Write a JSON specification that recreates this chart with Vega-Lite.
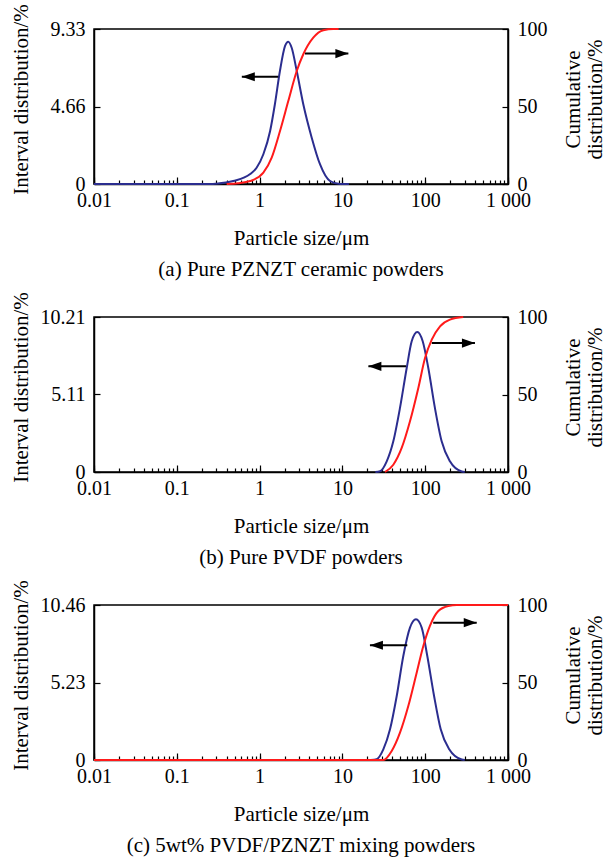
{
  "$schema": "https://vega.github.io/schema/vega-lite/v6.json",
  "padding": {"left": 9, "top": 2, "right": 4, "bottom": 2},
  "datasets": {
    "a": [
      {"s": "I", "x": 0.01, "y": 0}, {"s": "I", "x": 0.1, "y": 0}, {"s": "I", "x": 0.26, "y": 0},
      {"s": "I", "x": 0.3, "y": 0.02}, {"s": "I", "x": 0.48, "y": 0.18}, {"s": "I", "x": 0.77, "y": 0.6},
      {"s": "I", "x": 0.92, "y": 0.98}, {"s": "I", "x": 1.11, "y": 1.79}, {"s": "I", "x": 1.34, "y": 3.19},
      {"s": "I", "x": 1.53, "y": 4.8}, {"s": "I", "x": 1.76, "y": 6.8}, {"s": "I", "x": 2.03, "y": 8.31},
      {"s": "I", "x": 2.22, "y": 8.57}, {"s": "I", "x": 2.44, "y": 8.2}, {"s": "I", "x": 2.81, "y": 6.8},
      {"s": "I", "x": 3.37, "y": 4.8}, {"s": "I", "x": 4.26, "y": 2.79}, {"s": "I", "x": 5.36, "y": 1.19},
      {"s": "I", "x": 7.08, "y": 0.18}, {"s": "I", "x": 9.35, "y": 0}, {"s": "I", "x": 12, "y": 0},
      {"s": "C", "x": 0.4, "y": 0}, {"s": "C", "x": 0.55, "y": 0.5}, {"s": "C", "x": 0.77, "y": 1.9},
      {"s": "C", "x": 1.11, "y": 7.3}, {"s": "C", "x": 1.4, "y": 17}, {"s": "C", "x": 1.76, "y": 34},
      {"s": "C", "x": 2.22, "y": 53.5}, {"s": "C", "x": 2.81, "y": 72.9}, {"s": "C", "x": 3.37, "y": 83.7},
      {"s": "C", "x": 4.45, "y": 94.4}, {"s": "C", "x": 5.88, "y": 99.2}, {"s": "C", "x": 7.76, "y": 100},
      {"s": "C", "x": 9, "y": 100}
    ],
    "aArr": [
      {"d": "L", "t": 1.68, "h": 0.61, "y": 6.46},
      {"d": "R", "t": 3.53, "h": 11.8, "y": 7.85}
    ],
    "b": [
      {"s": "I", "x": 25, "y": 0}, {"s": "I", "x": 28.5, "y": 0.05}, {"s": "I", "x": 34.3, "y": 0.7},
      {"s": "I", "x": 41.2, "y": 2.02}, {"s": "I", "x": 49.6, "y": 4.22}, {"s": "I", "x": 59.8, "y": 6.85},
      {"s": "I", "x": 68.7, "y": 8.61}, {"s": "I", "x": 80.3, "y": 9.22}, {"s": "I", "x": 93.3, "y": 8.61},
      {"s": "I", "x": 109, "y": 6.85}, {"s": "I", "x": 131, "y": 4.22}, {"s": "I", "x": 158, "y": 2.02},
      {"s": "I", "x": 199, "y": 0.7}, {"s": "I", "x": 276, "y": 0.03}, {"s": "I", "x": 300, "y": 0},
      {"s": "C", "x": 32.7, "y": 0}, {"s": "C", "x": 41.2, "y": 4.7}, {"s": "C", "x": 52, "y": 15.5},
      {"s": "C", "x": 65.5, "y": 32.7}, {"s": "C", "x": 82.6, "y": 54.2}, {"s": "C", "x": 99.5, "y": 73.5},
      {"s": "C", "x": 120, "y": 85.4}, {"s": "C", "x": 151, "y": 94}, {"s": "C", "x": 199, "y": 98.3},
      {"s": "C", "x": 288, "y": 100}
    ],
    "bArr": [
      {"d": "L", "t": 58.6, "h": 20.6, "y": 6.96},
      {"d": "R", "t": 120, "h": 399, "y": 8.49}
    ],
    "c": [
      {"s": "I", "x": 22, "y": 0}, {"s": "I", "x": 25.9, "y": 0.05}, {"s": "I", "x": 31.2, "y": 0.72},
      {"s": "I", "x": 37.6, "y": 2.07}, {"s": "I", "x": 45.3, "y": 4.32}, {"s": "I", "x": 54.4, "y": 7.02},
      {"s": "I", "x": 65.5, "y": 8.93}, {"s": "I", "x": 77.4, "y": 9.49}, {"s": "I", "x": 90.7, "y": 8.93},
      {"s": "I", "x": 106, "y": 7.02}, {"s": "I", "x": 128, "y": 4.32}, {"s": "I", "x": 154, "y": 2.07},
      {"s": "I", "x": 195, "y": 0.72}, {"s": "I", "x": 276, "y": 0.03}, {"s": "I", "x": 300, "y": 0},
      {"s": "C", "x": 0.01, "y": 0}, {"s": "C", "x": 31.2, "y": 0}, {"s": "C", "x": 39.4, "y": 5.8},
      {"s": "C", "x": 49.6, "y": 17.6}, {"s": "C", "x": 62.5, "y": 34.8}, {"s": "C", "x": 78.9, "y": 56.3},
      {"s": "C", "x": 94.9, "y": 73.5}, {"s": "C", "x": 114, "y": 86.5}, {"s": "C", "x": 144, "y": 96.1},
      {"s": "C", "x": 190, "y": 99.4}, {"s": "C", "x": 240, "y": 100}, {"s": "C", "x": 1000, "y": 100}
    ],
    "cArr": [
      {"d": "L", "t": 60.8, "h": 21.5, "y": 7.74},
      {"d": "R", "t": 125, "h": 419, "y": 9.27}
    ]
  },
  "vconcat": [
    {
      "width": 414, "height": 155,
      "title": {"text": "(a) Pure PZNZT ceramic powders", "orient": "bottom", "offset": 11},
      "resolve": {"scale": {"y": "independent"}, "axis": {"x": "independent"}},
      "layer": [
        {
          "data": {"name": "a"},
          "transform": [{"filter": "datum.s == 'I'"}],
          "mark": {"type": "line", "color": "#2b2d8f", "strokeWidth": 2, "interpolate": "monotone"},
          "encoding": {
            "x": {"field": "x", "type": "quantitative", "scale": {"type": "log", "domain": [0.01, 1000], "nice": false},
              "axis": {"orient": "bottom", "title": "Particle size/μm", "values": [0.01,0.02,0.03,0.04,0.05,0.06,0.07,0.08,0.09,0.1,0.2,0.3,0.4,0.5,0.6,0.7,0.8,0.9,1,2,3,4,5,6,7,8,9,10,20,30,40,50,60,70,80,90,100,200,300,400,500,600,700,800,900,1000],
                "labelExpr": "datum.value == 0.01 ? '0.01' : datum.value == 0.1 ? '0.1' : datum.value == 1 ? '1' : datum.value == 10 ? '10' : datum.value == 100 ? '100' : datum.value == 1000 ? '1 000' : ''",
                "tickSize": -4, "labelPadding": 10, "titlePadding": 17}},
            "y": {"field": "y", "type": "quantitative", "scale": {"domain": [0, 9.33], "nice": false, "zero": false},
              "axis": {"values": [0, 4.66, 9.33], "title": "Interval distribution/%", "tickSize": -6, "labelPadding": 15, "titlePadding": 19, "titleY": 70,
                "labelExpr": "datum.value == 0 ? '0' : format(datum.value, '.2f')"}}
          }
        },
        {
          "data": {"name": "aArr"},
          "mark": {"type": "rule", "color": "black", "strokeWidth": 2},
          "encoding": {
            "x": {"field": "t", "type": "quantitative", "scale": {"type": "log", "domain": [0.01, 1000], "nice": false},
              "axis": {"orient": "bottom", "values": [0.01, 0.1, 1, 10, 100, 1000], "labels": false, "domain": false, "title": null, "tickSize": -7}},
            "x2": {"field": "h"},
            "y": {"field": "y", "type": "quantitative", "scale": {"domain": [0, 9.33], "nice": false, "zero": false}, "axis": null}
          }
        },
        {
          "data": {"name": "aArr"},
          "mark": {"type": "point", "filled": true, "color": "black", "opacity": 1, "size": 676},
          "encoding": {
            "x": {"field": "h", "type": "quantitative", "scale": {"type": "log", "domain": [0.01, 1000], "nice": false}, "axis": null},
            "y": {"field": "y", "type": "quantitative", "scale": {"domain": [0, 9.33], "nice": false, "zero": false}, "axis": null},
            "shape": {"field": "d", "type": "nominal", "scale": {"domain": ["L", "R"], "range": ["M0,0L1,-0.35L1,0.35Z", "M0,0L-1,-0.35L-1,0.35Z"]}, "legend": null}
          }
        },
        {
          "data": {"name": "a"},
          "transform": [{"filter": "datum.s == 'C'"}],
          "mark": {"type": "line", "color": "#ff1a1a", "strokeWidth": 2, "interpolate": "monotone"},
          "encoding": {
            "x": {"field": "x", "type": "quantitative", "scale": {"type": "log", "domain": [0.01, 1000], "nice": false}, "axis": null},
            "y": {"field": "y", "type": "quantitative", "scale": {"domain": [0, 100], "nice": false},
              "axis": {"orient": "right", "values": [0, 50, 100], "title": ["Cumulative", "distribution/%"], "titleAngle": 270, "titleY": 70, "tickSize": -6, "labelPadding": 15, "titlePadding": 14, "titleLineHeight": 22}}
          }
        }
      ]
    },
    {
      "width": 414, "height": 155,
      "title": {"text": "(b) Pure PVDF powders", "orient": "bottom", "offset": 11},
      "resolve": {"scale": {"y": "independent"}, "axis": {"x": "independent"}},
      "layer": [
        {
          "data": {"name": "b"},
          "transform": [{"filter": "datum.s == 'I'"}],
          "mark": {"type": "line", "color": "#2b2d8f", "strokeWidth": 2, "interpolate": "monotone"},
          "encoding": {
            "x": {"field": "x", "type": "quantitative", "scale": {"type": "log", "domain": [0.01, 1000], "nice": false},
              "axis": {"orient": "bottom", "title": "Particle size/μm", "values": [0.01,0.02,0.03,0.04,0.05,0.06,0.07,0.08,0.09,0.1,0.2,0.3,0.4,0.5,0.6,0.7,0.8,0.9,1,2,3,4,5,6,7,8,9,10,20,30,40,50,60,70,80,90,100,200,300,400,500,600,700,800,900,1000],
                "labelExpr": "datum.value == 0.01 ? '0.01' : datum.value == 0.1 ? '0.1' : datum.value == 1 ? '1' : datum.value == 10 ? '10' : datum.value == 100 ? '100' : datum.value == 1000 ? '1 000' : ''",
                "tickSize": -4, "labelPadding": 10, "titlePadding": 17}},
            "y": {"field": "y", "type": "quantitative", "scale": {"domain": [0, 10.21], "nice": false, "zero": false},
              "axis": {"values": [0, 5.11, 10.21], "title": "Interval distribution/%", "tickSize": -6, "labelPadding": 15, "titlePadding": 9, "titleY": 70,
                "labelExpr": "datum.value == 0 ? '0' : format(datum.value, '.2f')"}}
          }
        },
        {
          "data": {"name": "bArr"},
          "mark": {"type": "rule", "color": "black", "strokeWidth": 2},
          "encoding": {
            "x": {"field": "t", "type": "quantitative", "scale": {"type": "log", "domain": [0.01, 1000], "nice": false},
              "axis": {"orient": "bottom", "values": [0.01, 0.1, 1, 10, 100, 1000], "labels": false, "domain": false, "title": null, "tickSize": -7}},
            "x2": {"field": "h"},
            "y": {"field": "y", "type": "quantitative", "scale": {"domain": [0, 10.21], "nice": false, "zero": false}, "axis": null}
          }
        },
        {
          "data": {"name": "bArr"},
          "mark": {"type": "point", "filled": true, "color": "black", "opacity": 1, "size": 676},
          "encoding": {
            "x": {"field": "h", "type": "quantitative", "scale": {"type": "log", "domain": [0.01, 1000], "nice": false}, "axis": null},
            "y": {"field": "y", "type": "quantitative", "scale": {"domain": [0, 10.21], "nice": false, "zero": false}, "axis": null},
            "shape": {"field": "d", "type": "nominal", "scale": {"domain": ["L", "R"], "range": ["M0,0L1,-0.35L1,0.35Z", "M0,0L-1,-0.35L-1,0.35Z"]}, "legend": null}
          }
        },
        {
          "data": {"name": "b"},
          "transform": [{"filter": "datum.s == 'C'"}],
          "mark": {"type": "line", "color": "#ff1a1a", "strokeWidth": 2, "interpolate": "monotone"},
          "encoding": {
            "x": {"field": "x", "type": "quantitative", "scale": {"type": "log", "domain": [0.01, 1000], "nice": false}, "axis": null},
            "y": {"field": "y", "type": "quantitative", "scale": {"domain": [0, 100], "nice": false},
              "axis": {"orient": "right", "values": [0, 50, 100], "title": ["Cumulative", "distribution/%"], "titleAngle": 270, "titleY": 70, "tickSize": -6, "labelPadding": 15, "titlePadding": 14, "titleLineHeight": 22}}
          }
        }
      ]
    },
    {
      "width": 414, "height": 155,
      "title": {"text": "(c) 5wt% PVDF/PZNZT mixing powders", "orient": "bottom", "offset": 11},
      "resolve": {"scale": {"y": "independent"}, "axis": {"x": "independent"}},
      "layer": [
        {
          "data": {"name": "c"},
          "transform": [{"filter": "datum.s == 'I'"}],
          "mark": {"type": "line", "color": "#2b2d8f", "strokeWidth": 2, "interpolate": "monotone"},
          "encoding": {
            "x": {"field": "x", "type": "quantitative", "scale": {"type": "log", "domain": [0.01, 1000], "nice": false},
              "axis": {"orient": "bottom", "title": "Particle size/μm", "values": [0.01,0.02,0.03,0.04,0.05,0.06,0.07,0.08,0.09,0.1,0.2,0.3,0.4,0.5,0.6,0.7,0.8,0.9,1,2,3,4,5,6,7,8,9,10,20,30,40,50,60,70,80,90,100,200,300,400,500,600,700,800,900,1000],
                "labelExpr": "datum.value == 0.01 ? '0.01' : datum.value == 0.1 ? '0.1' : datum.value == 1 ? '1' : datum.value == 10 ? '10' : datum.value == 100 ? '100' : datum.value == 1000 ? '1 000' : ''",
                "tickSize": -4, "labelPadding": 10, "titlePadding": 17}},
            "y": {"field": "y", "type": "quantitative", "scale": {"domain": [0, 10.46], "nice": false, "zero": false},
              "axis": {"values": [0, 5.23, 10.46], "title": "Interval distribution/%", "tickSize": -6, "labelPadding": 15, "titlePadding": 9, "titleY": 70,
                "labelExpr": "datum.value == 0 ? '0' : format(datum.value, '.2f')"}}
          }
        },
        {
          "data": {"name": "cArr"},
          "mark": {"type": "rule", "color": "black", "strokeWidth": 2},
          "encoding": {
            "x": {"field": "t", "type": "quantitative", "scale": {"type": "log", "domain": [0.01, 1000], "nice": false},
              "axis": {"orient": "bottom", "values": [0.01, 0.1, 1, 10, 100, 1000], "labels": false, "domain": false, "title": null, "tickSize": -7}},
            "x2": {"field": "h"},
            "y": {"field": "y", "type": "quantitative", "scale": {"domain": [0, 10.46], "nice": false, "zero": false}, "axis": null}
          }
        },
        {
          "data": {"name": "cArr"},
          "mark": {"type": "point", "filled": true, "color": "black", "opacity": 1, "size": 676},
          "encoding": {
            "x": {"field": "h", "type": "quantitative", "scale": {"type": "log", "domain": [0.01, 1000], "nice": false}, "axis": null},
            "y": {"field": "y", "type": "quantitative", "scale": {"domain": [0, 10.46], "nice": false, "zero": false}, "axis": null},
            "shape": {"field": "d", "type": "nominal", "scale": {"domain": ["L", "R"], "range": ["M0,0L1,-0.35L1,0.35Z", "M0,0L-1,-0.35L-1,0.35Z"]}, "legend": null}
          }
        },
        {
          "data": {"name": "c"},
          "transform": [{"filter": "datum.s == 'C'"}],
          "mark": {"type": "line", "color": "#ff1a1a", "strokeWidth": 2, "interpolate": "monotone"},
          "encoding": {
            "x": {"field": "x", "type": "quantitative", "scale": {"type": "log", "domain": [0.01, 1000], "nice": false}, "axis": null},
            "y": {"field": "y", "type": "quantitative", "scale": {"domain": [0, 100], "nice": false},
              "axis": {"orient": "right", "values": [0, 50, 100], "title": ["Cumulative", "distribution/%"], "titleAngle": 270, "titleY": 70, "tickSize": -6, "labelPadding": 15, "titlePadding": 14, "titleLineHeight": 22}}
          }
        }
      ]
    }
  ],
  "config": {
    "font": "Liberation Serif",
    "background": "white",
    "view": {"stroke": "black", "strokeWidth": 1.5},
    "concat": {"spacing": 9},
    "axis": {"labelFont": "Liberation Serif", "labelFontSize": 20, "labelColor": "black", "titleFont": "Liberation Serif", "titleFontSize": 21, "titleFontWeight": "normal", "titleColor": "black", "domainColor": "black", "domainWidth": 1.5, "tickColor": "black", "tickWidth": 1.2, "grid": false, "labelOverlap": false, "labelFlush": false},
    "title": {"font": "Liberation Serif", "fontSize": 21, "fontWeight": "normal", "color": "black"}
  }
}
